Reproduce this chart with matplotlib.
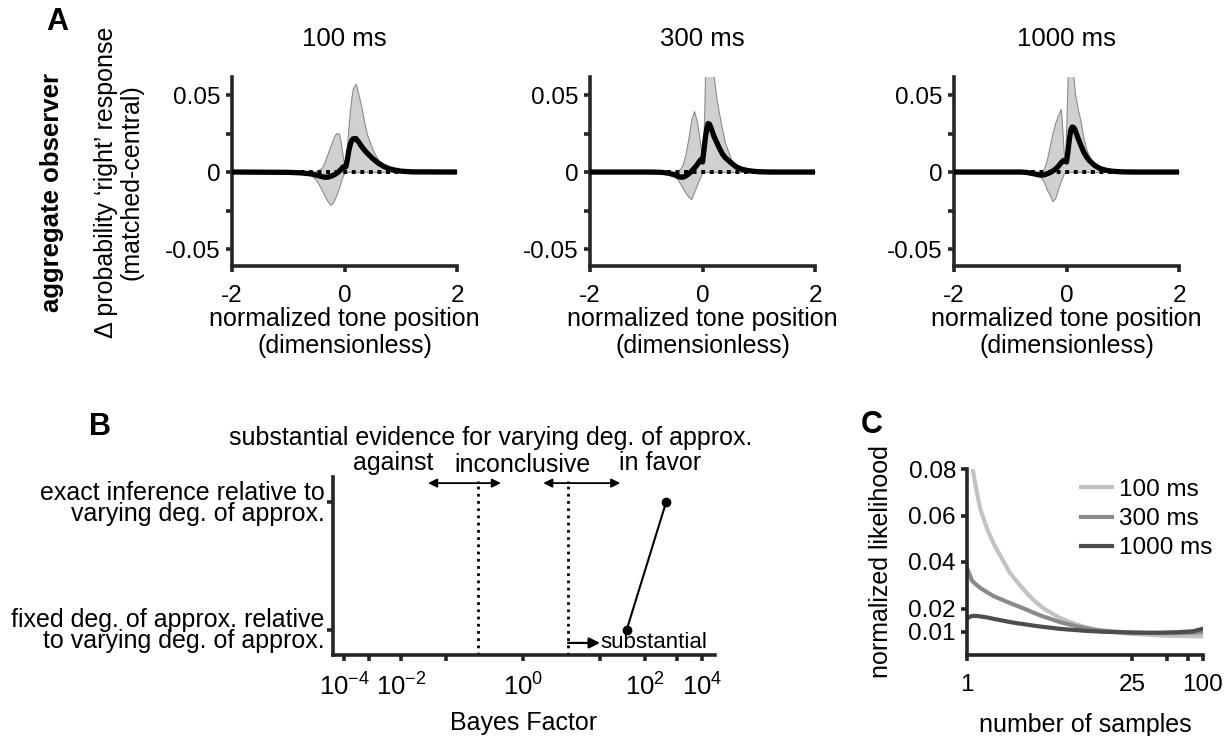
import numpy as np
import matplotlib
matplotlib.use("Agg")
from matplotlib import pyplot as plt

plt.rcParams["font.family"] = ["Liberation Sans", "DejaVu Sans"]
plt.rcParams["mathtext.fontset"] = "custom"
plt.rcParams["mathtext.rm"] = "Liberation Sans"
plt.rcParams["mathtext.it"] = "Liberation Sans:italic"
plt.rcParams["mathtext.bf"] = "Liberation Sans:bold"
plt.rcParams["mathtext.default"] = "regular"
plt.rcParams["axes.unicode_minus"] = False

# ---- panel A: tone position kernels ----
DURATIONS = ["100 ms", "300 ms", "1000 ms"]
TONE_POS = [-2.0, -1.0, -0.8, -0.7, -0.6, -0.5, -0.45, -0.4, -0.35, -0.3, -0.25, -0.2,
            -0.15, -0.1, -0.075, -0.05, -0.025, 0.0, 0.025, 0.05, 0.075, 0.1, 0.125,
            0.15, 0.2, 0.25, 0.3, 0.35, 0.4, 0.5, 0.6, 0.7, 0.8, 0.9, 1.0, 1.2, 2.0]

mean_100 = [0, -0.0002, -0.0005, -0.0008, -0.0012, -0.002, -0.0025, -0.003, -0.0034, -0.0033,
            -0.0029, -0.0021, -0.0011, 0.0003, 0.0012, 0.0022, 0.0033, 0.003, 0.0035, 0.008,
            0.0135, 0.0175, 0.0202, 0.0215, 0.0218, 0.0196, 0.0168, 0.0145, 0.0124, 0.0088,
            0.0058, 0.0036, 0.0021, 0.0012, 0.0006, 0.0001, 0]
upper_100 = [0, 0, 0, 0, 0.0001, 0.0005, 0.0015, 0.003, 0.007, 0.012, 0.017, 0.022, 0.0252,
             0.025, 0.021, 0.015, 0.009, 0.0036, 0.01, 0.02, 0.031, 0.041, 0.049, 0.0545,
             0.0574, 0.05, 0.0424, 0.0325, 0.0245, 0.0145, 0.0078, 0.004, 0.0019, 0.0009,
             0.0004, 0.0001, 0]
lower_100 = [0, 0, 0, -0.0003, -0.0015, -0.0055, -0.0085, -0.012, -0.0155, -0.019, -0.0213,
             -0.0195, -0.0155, -0.0105, -0.0075, -0.0045, -0.002, -0.0005, 0, 0, 0, 0, 0,
             0, 0, 0, 0, 0, 0, 0, 0, 0, 0, 0, 0, 0, 0]

mean_300 = [0, 0, -0.0001, -0.0003, -0.0008, -0.0018, -0.0026, -0.0032, -0.0034, -0.0026,
            -0.0013, 0.0004, 0.0023, 0.0045, 0.0058, 0.0072, 0.0082, 0.0065, 0.014, 0.022,
            0.028, 0.0315, 0.031, 0.0288, 0.0235, 0.0195, 0.0155, 0.012, 0.0095, 0.0062,
            0.0033, 0.0018, 0.001, 0.0005, 0.0002, 0, 0]
upper_300 = [0, 0, 0, 0, 0, 0.0003, 0.0008, 0.002, 0.005, 0.012, 0.022, 0.034, 0.0395, 0.033,
             0.027, 0.021, 0.0145, 0.0085, 0.03, 0.07, 0.082, 0.088, 0.085, 0.078, 0.062,
             0.047, 0.037, 0.0275, 0.019, 0.009, 0.0037, 0.0015, 0.0005, 0.0002, 0, 0, 0]
lower_300 = [0, 0, 0, 0, -0.0003, -0.002, -0.0045, -0.0073, -0.0105, -0.0135, -0.016, -0.0176,
             -0.013, -0.0085, -0.0062, -0.004, -0.002, -0.0003, 0, 0, 0, 0, 0, 0, 0, 0, 0,
             0, 0, 0, 0, 0, 0, 0, 0, 0, 0]

mean_1000 = [0, 0, 0, -0.0003, -0.001, -0.0018, -0.002, -0.0018, -0.0012, -0.0005, 0.0005,
             0.0018, 0.0035, 0.0058, 0.0068, 0.0076, 0.0072, 0.0065, 0.013, 0.021, 0.027,
             0.0292, 0.029, 0.0275, 0.0225, 0.0178, 0.0135, 0.0102, 0.0077, 0.0043, 0.0022,
             0.0012, 0.0006, 0.0003, 0.0001, 0, 0]
upper_1000 = [0, 0, 0, 0, 0, 0.0003, 0.0008, 0.002, 0.008, 0.0164, 0.025, 0.032, 0.037, 0.041,
              0.028, 0.013, 0.008, 0.035, 0.068, 0.08, 0.078, 0.07, 0.061, 0.051, 0.041,
              0.033, 0.0225, 0.015, 0.0105, 0.0045, 0.0018, 0.0008, 0.0003, 0.0001, 0, 0, 0]
lower_1000 = [0, 0, 0, 0, -0.0003, -0.0015, -0.0035, -0.0065, -0.0115, -0.0145, -0.019,
              -0.017, -0.011, -0.0058, -0.0035, -0.0012, -0.0003, 0, 0, 0, 0, 0, 0, 0, 0, 0,
              0, 0, 0, 0, 0, 0, 0, 0, 0, 0, 0]

# ---- panel B: Bayes factors ----
BF_VALUES = [35, 420]  # fixed vs varying, exact vs varying
BF_ROWS = [1, 2]
BF_ROW_LABELS = ["fixed deg. of approx. relative\nto varying deg. of approx.",
                 "exact inference relative to\nvarying deg. of approx."]
BF_THRESHOLDS = [10 ** -0.5, 10 ** 0.5]
ARROW_ENDS = [(10 ** -1.35, 10 ** -0.22), (10 ** 0.2, 10 ** 1.4)]
SUBSTANTIAL_END = 10 ** 1.0

# ---- panel C: likelihood vs number of samples ----
N_SAMPLES = [1, 1.1, 1.2, 1.3, 1.5, 1.7, 2.0, 2.3, 2.7, 3.2, 3.7, 4.4, 5.2, 6, 7, 8.5, 10,
             12, 14, 17, 23, 32, 43, 60, 82, 100]
lik_100 = [0.098, 0.082, 0.071, 0.0625, 0.0535, 0.0475, 0.041, 0.0355, 0.031, 0.0267,
           0.0235, 0.0202, 0.018, 0.0162, 0.0147, 0.0131, 0.012, 0.011, 0.0104, 0.0099,
           0.0092, 0.0088, 0.0084, 0.0082, 0.0081, 0.008]
lik_300 = [0.0375, 0.032, 0.0302, 0.0288, 0.0268, 0.0252, 0.0237, 0.0224, 0.021, 0.0195,
           0.0181, 0.0166, 0.0154, 0.0143, 0.0134, 0.0124, 0.0116, 0.0109, 0.0105, 0.0101,
           0.0097, 0.0095, 0.0094, 0.0094, 0.0096, 0.0098]
lik_1000 = [0.0158, 0.0168, 0.0168, 0.0166, 0.0161, 0.0155, 0.0148, 0.0142, 0.0136, 0.0131,
            0.0126, 0.0121, 0.0117, 0.0113, 0.011, 0.0107, 0.0104, 0.0102, 0.01, 0.0099,
            0.0097, 0.0096, 0.0096, 0.0098, 0.0102, 0.0113]
LIK_COLORS = ["#c2c2c2", "#8a8a8a", "#4d4d4d"]

SPINE_COLOR = "#262626"


def style_axes(ax):
    for side in ["top", "right"]:
        ax.spines[side].set_visible(False)
    for side in ["left", "bottom"]:
        ax.spines[side].set_linewidth(2.6)
        ax.spines[side].set_color(SPINE_COLOR)
    ax.tick_params(direction="out", length=4, width=2.6, color=SPINE_COLOR,
                   labelsize=17.5, pad=4)
    ax.minorticks_off()


def plot_kernel(ax, title, mean, upper, lower):
    ax.fill_between(TONE_POS, lower, upper, facecolor="#d0d0d0", edgecolor="#8c8c8c",
                    linewidth=0.8, zorder=1)
    ax.plot([TONE_POS[0], TONE_POS[-1]], [0, 0], linestyle=(0, (1, 1.2)), color="k",
            linewidth=2.8, zorder=2)
    ax.plot(TONE_POS, mean, color="k", linewidth=3.8, zorder=3, solid_joinstyle="round")
    ax.set_xlim(-2, 2)
    ax.set_ylim(-0.061, 0.0617)
    ax.set_xticks([-2, 0, 2])
    ax.set_xticklabels(["-2", "0", "2"])
    ax.set_yticks([-0.05, -0.025, 0, 0.025, 0.05])
    ax.set_yticklabels(["-0.05", "", "0", "", "0.05"])
    style_axes(ax)
    ax.tick_params(axis="x", pad=10)
    ax.set_xlabel("normalized tone position\n(dimensionless)", fontsize=18,
                  labelpad=0, linespacing=1.12)
    ax.set_title(title, fontsize=18.5, pad=22)


def bf_forward(x):
    t = np.log10(np.maximum(x, 1e-300))
    return np.sign(t) * np.log2(1 + np.abs(t))


def bf_inverse(s):
    t = np.sign(s) * (2 ** np.abs(s) - 1)
    return 10 ** t


def plot_bayes(ax):
    ax.set_xscale("function", functions=(bf_forward, bf_inverse))
    ax.set_xlim(10 ** -4.53, 10 ** 4.63)
    ax.set_ylim(0.8, 2.2)
    for thr in BF_THRESHOLDS:
        ax.plot([thr, thr], [0.8, 2.17], linestyle=(0, (1, 1.6)), color="k", linewidth=2)
    arrow_y = 2.152
    for thr, (left, right) in zip(BF_THRESHOLDS, ARROW_ENDS):
        for end in (left, right):
            ax.annotate("", xy=(end, arrow_y), xytext=(thr, arrow_y),
                        arrowprops=dict(arrowstyle="-|>", color="k", lw=1.3,
                                        mutation_scale=13, shrinkA=0, shrinkB=0))
    ax.annotate("", xy=(SUBSTANTIAL_END, 0.895), xytext=(BF_THRESHOLDS[1], 0.895),
                arrowprops=dict(arrowstyle="-|>", color="k", lw=1.6, mutation_scale=16,
                                shrinkA=0, shrinkB=0))
    ax.text(SUBSTANTIAL_END, 0.9, "substantial", fontsize=16, ha="left", va="center")
    ax.plot(BF_VALUES, BF_ROWS, color="k", linewidth=1.5, marker="o", markersize=6)

    ax.text(0.414, 1.219, "substantial evidence for varying deg. of approx.", fontsize=18,
            ha="center", va="center", transform=ax.transAxes)
    ax.text(0.157, 1.079, "against", fontsize=18, ha="center", va="center",
            transform=ax.transAxes)
    ax.text(0.495, 1.067, "inconclusive", fontsize=18, ha="center", va="center",
            transform=ax.transAxes)
    ax.text(0.856, 1.079, "in favor", fontsize=18, ha="center", va="center",
            transform=ax.transAxes)

    ax.set_xticks([10.0 ** k for k in range(-4, 5)])
    ax.set_xticklabels([r"$10^{%d}$" % k if k % 2 == 0 else "" for k in range(-4, 5)])
    ax.set_yticks(BF_ROWS)
    ax.set_yticklabels(BF_ROW_LABELS, linespacing=0.85)
    style_axes(ax)
    ax.tick_params(axis="y", labelsize=18, pad=2)
    ax.tick_params(axis="x", labelsize=18.5, pad=9)
    ax.set_xlabel("Bayes Factor", fontsize=18, labelpad=8)


def plot_likelihood(ax):
    for values, label, color in zip([lik_100, lik_300, lik_1000], DURATIONS, LIK_COLORS):
        ax.plot(N_SAMPLES, values, color=color, linewidth=3, label=label)
    ax.set_xscale("log")
    ax.set_xlim(1, 100)
    ax.set_ylim(0, 0.08)
    ax.set_xticks([1, 25, 50, 75, 100])
    ax.set_xticklabels(["1", "25", "", "", "100"])
    ax.set_yticks([0.01, 0.02, 0.04, 0.06, 0.08])
    ax.set_yticklabels(["0.01", "0.02", "0.04", "0.06", "0.08"])
    style_axes(ax)
    ax.tick_params(axis="x", pad=10)
    ax.set_xlabel("number of samples", fontsize=18, labelpad=12)
    ax.set_ylabel("normalized likelihood", fontsize=18, labelpad=11)
    ax.legend(loc="upper left", bbox_to_anchor=(0.44, 1.0), frameon=False, fontsize=17.5,
              handlelength=1.3, handletextpad=0.3, labelspacing=0.3, borderaxespad=0)


def main():
    fig = plt.figure(figsize=(12.27, 7.36), dpi=100)

    kernel_lefts = [232, 590, 954]
    kernels = [(mean_100, upper_100, lower_100), (mean_300, upper_300, lower_300),
               (mean_1000, upper_1000, lower_1000)]
    for i, (left, (mean, upper, lower)) in enumerate(zip(kernel_lefts, kernels)):
        ax = fig.add_axes([left / 1227, (736 - 266) / 736, 225 / 1227, 189 / 736])
        plot_kernel(ax, DURATIONS[i], mean, upper, lower)

    fig.text(119 / 1227, 1 - 182 / 736, "\u0394 probability \u2018right\u2019 response\n(matched-central)",
             rotation=90, ha="center", va="center", fontsize=18, linespacing=1.1)
    fig.text(52 / 1227, 1 - 193 / 736, "aggregate observer", rotation=90, ha="center",
             va="center", fontsize=18.5, fontweight="bold")

    ax_b = fig.add_axes([333 / 1227, (736 - 655) / 736, 382 / 1227, 178 / 736])
    plot_bayes(ax_b)

    ax_c = fig.add_axes([967 / 1227, (736 - 655) / 736, 236 / 1227, 186 / 736])
    plot_likelihood(ax_c)

    fig.text(57 / 1227, 1 - 22 / 736, "A", fontsize=22, fontweight="bold", ha="center",
             va="center")
    fig.text(100 / 1227, 1 - 427 / 736, "B", fontsize=22, fontweight="bold", ha="center",
             va="center")
    fig.text(872 / 1227, 1 - 425 / 736, "C", fontsize=22, fontweight="bold", ha="center",
             va="center")

    fig.savefig("out.png", dpi=100)


if __name__ == "__main__":
    main()
